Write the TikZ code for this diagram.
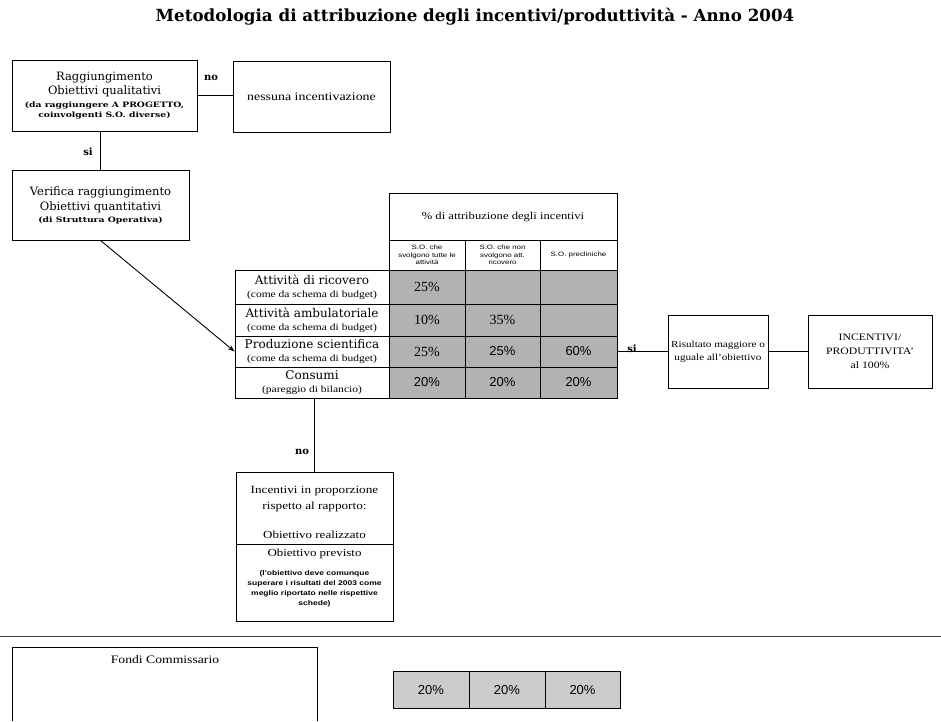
\documentclass[tikz,border=0pt]{standalone}
\usepackage{fontspec}
\setmainfont[FakeStretch=1.2]{Liberation Serif}
\setsansfont{Liberation Sans}
\newfontfamily\clar{DejaVu Serif}
\newfontfamily\clarw[FakeStretch=1.25]{DejaVu Serif}
\newfontfamily\sansw[FakeStretch=1.25]{Liberation Sans}
\newfontfamily\timesn{Liberation Serif}
\usetikzlibrary{arrows.meta}
\begin{document}
\begin{tikzpicture}[x=1pt,y=-1pt,
  box/.style={draw, line width=0.9pt, align=center, inner sep=1pt},
  cell/.style={box, inner sep=0pt},
  shaded/.style={cell, fill=black!30},
  lightshade/.style={cell, fill=black!20},
  yn/.style={font=\clar\bfseries\fontsize{10}{12}\selectfont, inner sep=0pt},
  conn/.style={line width=0.9pt},
  pct/.style={font=\timesn\fontsize{14}{16}\selectfont},
  pcts/.style={font=\sffamily\fontsize{13}{15}\selectfont},
  rowlab/.style={cell, minimum width=154pt, font=\fontsize{9.6}{12.5}\selectfont},
  subh/.style={cell, minimum height=30pt, font=\sansw\fontsize{6.3}{7.6}\selectfont},
  ]
\useasboundingbox (0,0) rectangle (941,721);

% title
\node[font=\clar\bfseries\fontsize{16.7}{19}\selectfont] (title) at (475,17)
  {Metodologia di attribuzione degli incentivi/produttività - Anno 2004};

% top boxes
\node[box, minimum width=185pt, minimum height=71pt, font=\fontsize{11.5}{14.5}\selectfont] (b1) at (104.5,95.5)
  {{\clar Raggiungimento}\\{\clar Obiettivi qualitativi}\\[-2pt]{\clarw\bfseries\fontsize{7.4}{8.5}\selectfont (da raggiungere A PROGETTO,}\\[-4pt]{\clarw\bfseries\fontsize{7.4}{8.5}\selectfont coinvolgenti S.O. diverse)}};
\node[box, minimum width=157pt, minimum height=71pt, font=\fontsize{11.6}{13}\selectfont] (b2) at (311.5,96.5)
  {nessuna incentivazione};
\node[box, minimum width=177pt, minimum height=70pt, font=\fontsize{11.5}{15}\selectfont] (b3) at (100.5,205)
  {{\clar Verifica raggiungimento}\\{\clar Obiettivi quantitativi}\\[-3pt]{\clarw\bfseries\fontsize{7.4}{8.5}\selectfont (di Struttura Operativa)}};

\draw[conn] (b1.east) -- (b1.east -| b2.west);
\node[yn] (no1) at (211,78) {no};
\draw[conn] (b3.north) -- (b3.north |- b1.south);
\node[yn] (si1) at (88,152) {si};

% table header
\node[cell, minimum width=228pt, minimum height=47pt, font=\fontsize{10.5}{12}\selectfont] (hd) at (503,216.5)
  {\% di attribuzione degli incentivi};
\node[subh, minimum width=76pt] (s1) at (427,255) {S.O. che\\svolgono tutte le\\attività};
\node[subh, minimum width=75pt] (s2) at (502.5,255) {S.O. che non\\svolgono att.\\ricovero};
\node[subh, minimum width=77pt] (s3) at (578.5,255) {S.O. precliniche};

% row labels
\node[rowlab, minimum height=34pt] (l1) at (312,287)
  {{\clar\fontsize{12}{14}\selectfont Attività di ricovero}\\(come da schema di budget)};
\node[rowlab, minimum height=32pt] (l2) at (312,320)
  {{\clar\fontsize{12}{14}\selectfont Attività ambulatoriale}\\(come da schema di budget)};
\node[rowlab, minimum height=31pt] (l3) at (312,351.5)
  {{\clar\fontsize{12}{14}\selectfont Produzione scientifica}\\(come da schema di budget)};
\node[rowlab, minimum height=31pt] (l4) at (312,382.5)
  {{\clar\fontsize{12}{14}\selectfont Consumi}\\(pareggio di bilancio)};

% data cells
\node[shaded, minimum width=76pt, minimum height=34pt, pct] (c11) at (427,287) {25\%};
\node[shaded, minimum width=75pt, minimum height=34pt] (c12) at (502.5,287) {};
\node[shaded, minimum width=77pt, minimum height=34pt] (c13) at (578.5,287) {};
\node[shaded, minimum width=76pt, minimum height=32pt, pct] (c21) at (427,320) {10\%};
\node[shaded, minimum width=75pt, minimum height=32pt, pct] (c22) at (502.5,320) {35\%};
\node[shaded, minimum width=77pt, minimum height=32pt] (c23) at (578.5,320) {};
\node[shaded, minimum width=76pt, minimum height=31pt, pct] (c31) at (427,351.5) {25\%};
\node[shaded, minimum width=75pt, minimum height=31pt, pcts] (c32) at (502.5,351.5) {25\%};
\node[shaded, minimum width=77pt, minimum height=31pt, pcts] (c33) at (578.5,351.5) {60\%};
\node[shaded, minimum width=76pt, minimum height=31pt, pcts] (c41) at (427,382.5) {20\%};
\node[shaded, minimum width=75pt, minimum height=31pt, pcts] (c42) at (502.5,382.5) {20\%};
\node[shaded, minimum width=77pt, minimum height=31pt, pcts] (c43) at (578.5,382.5) {20\%};

% arrow from b3 to table
\draw[conn, -{Stealth[length=7pt,width=5pt]}] (b3.south) -- (l3.west);

% right side
\node[box, minimum width=100pt, minimum height=73pt, font=\fontsize{9.3}{13}\selectfont] (res) at (718,351.5)
  {Risultato maggiore o\\uguale all'obiettivo};
\node[box, minimum width=124pt, minimum height=73pt, font=\fontsize{9.8}{14}\selectfont] (inc) at (870,351.5)
  {INCENTIVI/\\PRODUTTIVITA'\\al 100\%};
\draw[conn] (c33.east) -- (res.west);
\node[yn] (si2) at (632,349) {si};
\draw[conn] (res.east) -- (inc.west);

% proportional box
\node[box, minimum width=157pt, minimum height=149pt] (prop) at (314.5,546.5) {};
\draw[conn] (prop.north) -- (prop.north |- l4.south);
\node[yn] (no2) at (302,452) {no};
\node[font=\fontsize{11}{16}\selectfont, align=center] (ptxt) at (314.5,499)
  {Incentivi in proporzione\\rispetto al rapporto:};
\node[font=\fontsize{10.8}{12}\selectfont] (num) at (314.5,535) {Obiettivo realizzato};
\node[font=\fontsize{10.8}{12}\selectfont] (den) at (314.5,554) {Obiettivo previsto};
\coordinate (sep) at (314.5,544);
\draw[line width=0.8pt] (prop.west |- sep) -- (prop.east |- sep);
\node[font=\sansw\bfseries\fontsize{6.8}{10}\selectfont, align=center] (note) at (314.5,589)
  {(l'obiettivo deve comunque\\superare i risultati del 2003 come\\meglio riportato nelle rispettive\\schede)};

% separator
\coordinate (sepL) at (0,636);
\coordinate (sepR) at (941,636);
\draw[line width=1pt, black!75] (sepL) -- (sepR);

% Fondi Commissario
\node[minimum width=304pt, minimum height=73pt, inner sep=0pt] (fondi) at (165,684.5) {};
\draw[line width=0.9pt] (fondi.south west) -- (fondi.north west) -- (fondi.north east) -- (fondi.south east);
\node[font=\fontsize{11.4}{13}\selectfont, anchor=north] (ftxt) at ([yshift=-4pt]fondi.north) {Fondi Commissario};

% bottom 20% boxes
\node[lightshade, minimum width=76pt, minimum height=37pt, pcts] (f1) at (431,690) {20\%};
\node[lightshade, minimum width=76pt, minimum height=37pt, pcts] (f2) at (507,690) {20\%};
\node[lightshade, minimum width=75pt, minimum height=37pt, pcts] (f3) at (582.5,690) {20\%};
\end{tikzpicture}
\end{document}
